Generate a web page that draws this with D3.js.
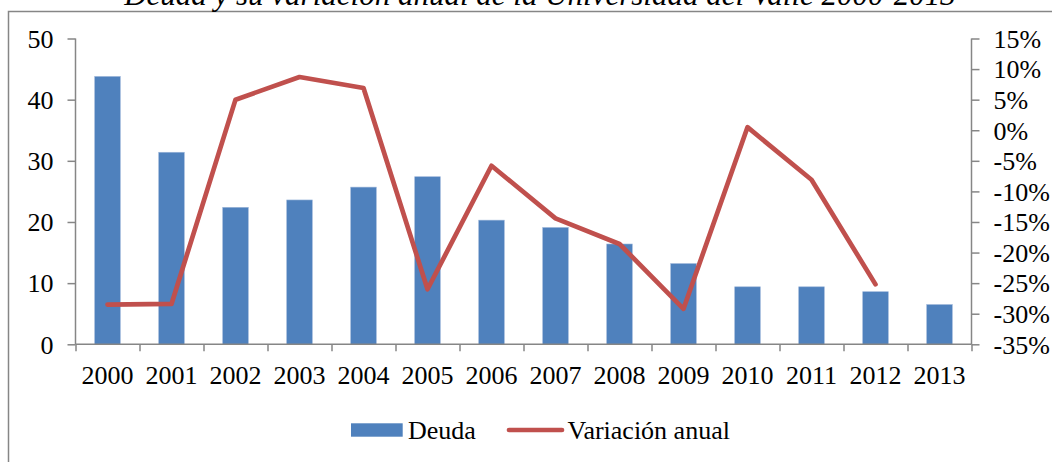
<!DOCTYPE html>
<html>
<head>
<meta charset="utf-8">
<script src="https://cdn.jsdelivr.net/npm/d3@7"></script>
<style>
  html, body { margin: 0; padding: 0; background: #fff; }
  svg { display: block; }
  text { font-family: "Liberation Serif", "Times New Roman", serif; fill: #000; }
</style>
</head>
<body>
<svg id="chart" width="1052" height="462"></svg>
<script>
const years = ["2000","2001","2002","2003","2004","2005","2006","2007","2008","2009","2010","2011","2012","2013"];
const deuda = [43.8, 31.4, 22.4, 23.6, 25.7, 27.4, 20.3, 19.1, 16.4, 13.2, 9.4, 9.4, 8.6, 6.5];
const variacion = [-28.5, -28.4, 5.0, 8.7, 6.9, -26.0, -5.8, -14.4, -18.6, -29.2, 0.5, -8.1, -25.2, null];
const leftTicks = [0, 10, 20, 30, 40, 50];
const rightTicks = [-35, -30, -25, -20, -15, -10, -5, 0, 5, 10, 15];
const titleText = "Deuda y su variación anual de la Universidad del Valle 2000-2013";
const legendLabels = ["Deuda", "Variación anual"];

const svg = d3.select("#chart");
const W = 1052, H = 462;
const x0 = 75.5, x1 = 971.5, yTop = 38.5, yBot = 344.3;
const axisColor = "#868686";
const barColor = "#4F81BD";
const lineColor = "#C0504D";
const fontSize = 26;

// frame
svg.append("path")
  .attr("d", `M8.5,${H} L8.5,11.5 L${W},11.5`)
  .attr("fill", "none").attr("stroke", axisColor).attr("stroke-width", 1.5);

// title (partially cut at top, as in the reference)
svg.append("text")
  .attr("x", 540).attr("y", 5)
  .attr("text-anchor", "middle")
  .style("font-size", "31px").style("font-style", "italic")
  .text(titleText);

const x = d3.scaleBand().domain(years).range([x0, x1]).paddingInner(0.6).paddingOuter(0.3);
const yL = d3.scaleLinear().domain([0, 50]).range([yBot, yTop]);
const yR = d3.scaleLinear().domain([-35, 15]).range([yBot, yTop]);

// bars
svg.append("g").selectAll("rect").data(deuda).join("rect")
  .attr("x", (d, i) => x(years[i]))
  .attr("width", x.bandwidth())
  .attr("y", d => yL(d))
  .attr("height", d => yBot - yL(d))
  .attr("fill", barColor)
  .attr("stroke", "#9DB6DA")
  .attr("stroke-width", 0.6);

// left axis
const gL = svg.append("g").attr("transform", `translate(${x0},0)`)
  .call(d3.axisLeft(yL).tickValues(leftTicks).tickSize(8).tickPadding(14).tickFormat(d => String(d)));
// right axis
const gR = svg.append("g").attr("transform", `translate(${x1},0)`)
  .call(d3.axisRight(yR).tickValues(rightTicks).tickSize(8).tickPadding(14).tickFormat(d => (d < 0 ? "-" + Math.abs(d) : String(d)) + "%"));
// bottom axis
const xb = d3.scaleLinear().domain([0, years.length]).range([x0, x1]);
const gB = svg.append("g").attr("transform", `translate(0,${yBot})`)
  .call(d3.axisBottom(xb).tickValues(d3.range(years.length + 1)).tickSize(7).tickFormat(""));
const gX = svg.append("g").attr("transform", `translate(0,${yBot})`)
  .call(d3.axisBottom(x).tickSize(0).tickPadding(21));

[gL, gR, gB, gX].forEach(g => {
  g.selectAll(".domain").attr("stroke", axisColor).attr("stroke-width", 1.5);
  g.selectAll(".tick line").attr("stroke", axisColor).attr("stroke-width", 1.5);
  g.selectAll("text").style("font-size", fontSize + "px").style("font-family", "'Liberation Serif', serif").attr("fill", "#000");
});
gX.select(".domain").remove();
gL.select(".domain").attr("d", `M0,${yTop}V${yBot}`);
gR.select(".domain").attr("d", `M0,${yTop}V${yBot}`);
gB.select(".domain").attr("d", `M${x0},0H${x1}`);
gL.selectAll(".tick text").attr("dy", "0.34em");
gR.selectAll(".tick text").attr("dy", "0.34em");

// line
const line = d3.line()
  .defined(d => d != null)
  .x((d, i) => x(years[i]) + x.bandwidth() / 2)
  .y(d => yR(d));
svg.append("path")
  .datum(variacion)
  .attr("d", line)
  .attr("fill", "none")
  .attr("stroke", lineColor)
  .attr("stroke-width", 4.7)
  .attr("stroke-linejoin", "round")
  .attr("stroke-linecap", "round");

// legend
const lg = svg.append("g");
lg.append("rect").attr("x", 351).attr("y", 423.3).attr("width", 51.7).attr("height", 13.4).attr("fill", barColor);
lg.append("text").attr("x", 408).attr("y", 439).style("font-size", fontSize + "px").text(legendLabels[0]);
lg.append("line").attr("x1", 509).attr("x2", 562).attr("y1", 430).attr("y2", 430)
  .attr("stroke", lineColor).attr("stroke-width", 4.7).attr("stroke-linecap", "round");
lg.append("text").attr("x", 567.5).attr("y", 439).style("font-size", fontSize + "px").text(legendLabels[1]);
</script>
</body>
</html>
